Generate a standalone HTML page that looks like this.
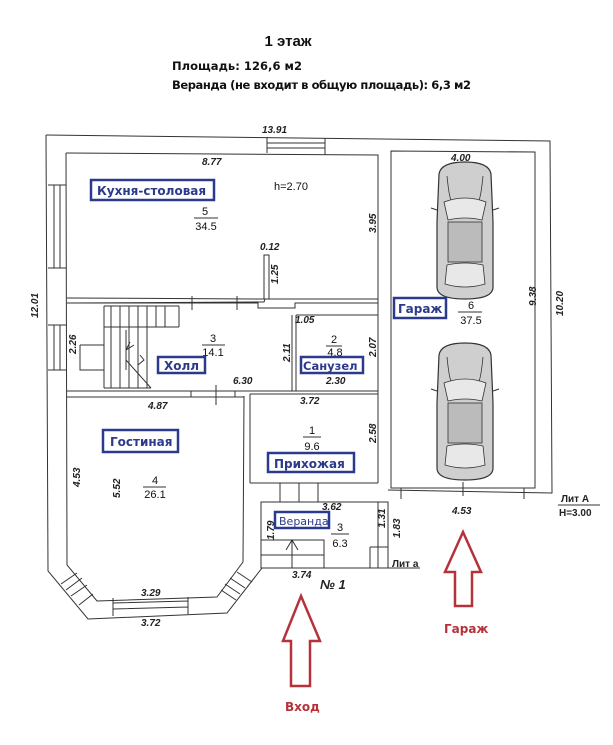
<!DOCTYPE html>
<html><head><meta charset="utf-8"><style>
html,body{margin:0;padding:0;background:#fff;}
svg{display:block;}
.d{font-family:"Liberation Sans",sans-serif;font-style:italic;font-weight:bold;font-size:10px;fill:#222;}
.n{font-family:"Liberation Sans",sans-serif;font-size:11px;fill:#111;}
.lb{font-family:"DejaVu Sans","Liberation Sans",sans-serif;font-weight:bold;font-size:12px;fill:#2b3a8c;}
.lr{font-family:"DejaVu Sans","Liberation Sans",sans-serif;font-weight:bold;font-size:12px;fill:#b5323a;}
</style></head><body>
<svg width="613" height="745" viewBox="0 0 613 745" xmlns="http://www.w3.org/2000/svg">
<defs>
<g id="car">
<path d="M4,12 Q6,0 30,0 Q54,0 56,12 L58,60 L58,125 Q58,137 30,137 Q2,137 2,125 L2,60 Z" fill="#cfcfcf" stroke="#333" stroke-width="1.2"/>
<path d="M9,40 Q30,32 51,40 L47,58 Q30,54 13,58 Z" fill="#e8e8e8" stroke="#333" stroke-width="0.8"/>
<rect x="13" y="60" width="34" height="40" fill="#bbb" stroke="#333" stroke-width="0.8"/>
<path d="M12,103 Q30,99 48,103 L50,122 Q30,128 10,122 Z" fill="#e8e8e8" stroke="#333" stroke-width="0.8"/>
<path d="M12,14 Q14,34 16,38 M48,14 Q46,34 44,38" fill="none" stroke="#333" stroke-width="0.8"/>
<path d="M2,48 L-4,46 M58,48 L64,46" stroke="#333" stroke-width="1"/>
</g>
</defs>
<!-- title -->
<text x="288" y="46" text-anchor="middle" font-family="Liberation Sans,sans-serif" font-weight="bold" font-size="15" fill="#111">1 этаж</text>
<text x="172" y="70" class="lb" style="fill:#111;font-size:11.5px" textLength="130">Площадь: 126,6 м2</text>
<text x="172" y="89" class="lb" style="fill:#111;font-size:11.5px" textLength="299">Веранда (не входит в общую площадь): 6,3 м2</text>

<g fill="none" stroke="#333" stroke-width="1">
<!-- outer wall -->
<path d="M46,135 L550,141 L552,493 L388,490"/>
<path d="M46,135 L48,571 L88,619 L227,613 L262,568"/>
<!-- inner kitchen/hall/living -->
<path d="M66,153 L378,155 L378,483"/>
<path d="M66,153 L67,565 L97,601 L217,597 L243,562 L244,396"/>
<!-- top window -->
<path d="M267,137 L267,153 M325,138 L325,155 M267,143 L325,143 M267,148 L325,148"/>
<!-- left windows -->
<path d="M48,185 L66,185 M48,268 L66,268 M54,185 L54,268 M60,185 L60,268"/>
<path d="M48,325 L66,325 M48,370 L66,370 M54,325 L54,370 M60,325 L60,370"/>
<!-- kitchen bottom wall -->
<path d="M67,298 L265,299 L264,302 L67,303 M265,299 L378,299 M67,303 L258,303 L258,308 L295,308 L295,303 L378,303"/>
<path d="M192,296 L192,310 M237,296 L237,310"/>
<!-- partition 0.12 -->
<rect x="264" y="255" width="5" height="44"/>
<!-- hall/bath wall -->
<path d="M292,315 L292,391 M296,315 L296,391 M296,315 L378,315"/>
<!-- hall bottom wall -->
<path d="M67,391 L378,391 M67,397 L244,397 M191,391 L191,397 M235,391 L235,397 M250,394 L250,483 M250,394 L378,394"/>
<path d="M216,385 L216,405"/>
<!-- stairs -->
<path d="M104,306 L104,388 M104,306 L179,306 M104,327 L179,327 M80,345 L104,345 M80,345 L80,370 L104,370 M104,388 L151,388"/>
<path d="M111,306 L111,388 M120,306 L120,388 M129,306 L129,388 M138,306 L138,388 M147,306 L147,388 M156,306 L156,327 M165,306 L165,327 M179,306 L179,327"/>
<path d="M104,327 L104,345 M104,370 L104,388 M126,330 L126,370"/>
<path d="M126,350 L130,342 M126,350 L134,345 M126,360 L151,388 M140,355 L144,360 L138,365"/>
<!-- prihozhaya door -->
<path d="M250,483 L378,483 M280,483 L280,502 M318,483 L318,502 M299,483 L299,502"/>
<!-- veranda -->
<path d="M261,502 L388,502 L388,568 L261,568 Z M378,502 L378,568 M261,540 L324,540 L324,568 M261,555 L324,555 M292,540 L292,568 M286,550 L292,540 L298,550 M370,547 L388,547 L388,568 M370,547 L370,568"/>
<path d="M388,568 L420,568"/>
<!-- garage -->
<path d="M391,151 L535,152 L535,488 L391,488 Z M401,488 L401,499 M524,488 L524,499 M463,482 L463,496"/>
<!-- bay windows -->
<path d="M113,598 L113,616 M188,597 L188,614 M113,603 L188,601 M113,609 L188,607"/>
<path d="M61,584 L77,573 M79,605 L93,594 M66,590 L82,578 M71,596 L87,585"/>
<path d="M221,590 L236,600 M237,572 L252,582 M225,584 L240,594 M230,578 L245,588"/>
</g>

<use href="#car" x="435" y="162"/>
<use href="#car" x="435" y="343"/>

<!-- dims -->
<g class="d">
<text x="262" y="133">13.91</text>
<text x="202" y="165">8.77</text>
<text x="260" y="250">0.12</text>
<text x="295" y="323">1.05</text>
<text x="233" y="384">6.30</text>
<text x="326" y="384">2.30</text>
<text x="148" y="409">4.87</text>
<text x="300" y="404">3.72</text>
<text x="322" y="510">3.62</text>
<text x="292" y="578">3.74</text>
<text x="141" y="596">3.29</text>
<text x="141" y="626">3.72</text>
<text x="451" y="161">4.00</text>
<text x="452" y="514">4.53</text>
<text transform="translate(38,318) rotate(-90)">12.01</text>
<text transform="translate(76,354) rotate(-90)">2.26</text>
<text transform="translate(80,487) rotate(-90)">4.53</text>
<text transform="translate(120,498) rotate(-90)">5.52</text>
<text transform="translate(278,284) rotate(-90)">1.25</text>
<text transform="translate(290,362) rotate(-90)">2.11</text>
<text transform="translate(376,233) rotate(-90)">3.95</text>
<text transform="translate(376,357) rotate(-90)">2.07</text>
<text transform="translate(376,443) rotate(-90)">2.58</text>
<text transform="translate(274,540) rotate(-90)">1.79</text>
<text transform="translate(385,528) rotate(-90)">1.31</text>
<text transform="translate(400,538) rotate(-90)">1.83</text>
<text transform="translate(536,306) rotate(-90)">9.38</text>
<text transform="translate(563,316) rotate(-90)">10.20</text>
</g>
<text x="274" y="190" class="n" font-size="12">h=2.70</text>
<text x="320" y="589" font-family="Liberation Sans,sans-serif" font-style="italic" font-weight="bold" font-size="13" fill="#222">№ 1</text>
<text x="392" y="567" font-family="Liberation Sans,sans-serif" font-weight="bold" font-size="10" fill="#222">Лит а</text>
<text x="561" y="502" font-family="Liberation Sans,sans-serif" font-weight="bold" font-size="10" fill="#222">Лит А</text>
<line x1="558" y1="505" x2="600" y2="505" stroke="#333"/>
<text x="559" y="516" font-family="Liberation Sans,sans-serif" font-weight="bold" font-size="10" fill="#222">H=3.00</text>

<!-- room numbers -->
<g class="n" text-anchor="middle">
<text x="205" y="215">5</text><line x1="194" y1="218" x2="218" y2="218" stroke="#333"/><text x="206" y="230">34.5</text>
<text x="213" y="342">3</text><line x1="202" y1="345" x2="225" y2="345" stroke="#333"/><text x="213" y="356">14.1</text>
<text x="334" y="343">2</text><line x1="326" y1="346" x2="342" y2="346" stroke="#333"/><text x="335" y="356">4.8</text>
<text x="312" y="434">1</text><line x1="303" y1="437" x2="321" y2="437" stroke="#333"/><text x="312" y="450">9.6</text>
<text x="155" y="484">4</text><line x1="143" y1="487" x2="166" y2="487" stroke="#333"/><text x="155" y="498">26.1</text>
<text x="340" y="531">3</text><line x1="331" y1="534" x2="349" y2="534" stroke="#333"/><text x="340" y="547">6.3</text>
<text x="471" y="309">6</text><line x1="458" y1="312" x2="482" y2="312" stroke="#333"/><text x="471" y="324">37.5</text>
</g>

<!-- blue labels -->
<g fill="#fff" stroke="#2b3a8c" stroke-width="2.5">
<rect x="91" y="180" width="123" height="20"/>
<rect x="158" y="357" width="47" height="16"/>
<rect x="301" y="357" width="62" height="16"/>
<rect x="103" y="430" width="75" height="22"/>
<rect x="268" y="453" width="86" height="19"/>
<rect x="275" y="512" width="54" height="16"/>
<rect x="394" y="298" width="52" height="20"/>
</g>
<text x="97" y="195" class="lb">Кухня-столовая</text>
<text x="164" y="370" class="lb">Холл</text>
<text x="303" y="370" class="lb" style="font-size:11.5px">Санузел</text>
<text x="110" y="446" class="lb">Гостиная</text>
<text x="274" y="468" class="lb">Прихожая</text>
<text x="279" y="525" class="lb" style="font-weight:normal;font-size:11px">Веранда</text>
<text x="398" y="313" class="lb">Гараж</text>

<!-- red arrows -->
<g fill="none" stroke="#b5323a" stroke-width="2.5" stroke-linejoin="miter">
<path d="M301,596 L320,641 L310,641 L310,686 L291,686 L291,641 L283,641 Z"/>
<path d="M463,532 L481,572 L472,572 L472,606 L455,606 L455,572 L445,572 Z"/>
</g>
<text x="285" y="711" class="lr">Вход</text>
<text x="444" y="633" class="lr">Гараж</text>
</svg>
</body></html>
